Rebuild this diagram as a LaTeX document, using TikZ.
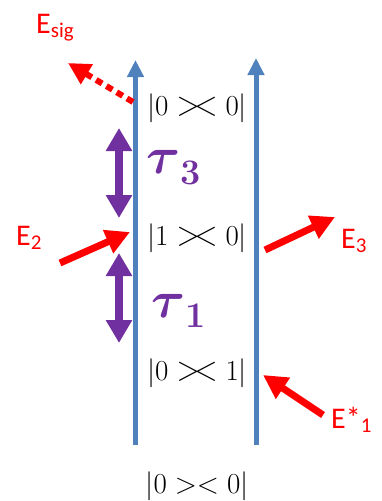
\RequirePackage{fix-cm}
\documentclass[tikz,border=0pt]{standalone}
\usepackage{fontspec}
\usepackage{bm}
\usepackage{graphicx}
\newfontfamily\calib{Carlito}
\usetikzlibrary{arrows.meta}
\definecolor{axisblue}{HTML}{4F81BD}
\definecolor{tpurple}{HTML}{7030A0}
\definecolor{ered}{HTML}{FF0000}
\newcommand\kx{\mathrel{\scalebox{1.05}[1.2]{$>\mkern-3.2mu<$}}}
\begin{document}
\begin{tikzpicture}[x=1pt,y=-1pt,
  axisline/.style={draw=axisblue,line width=5pt,-{Triangle[width=16pt,length=17pt]}},
  tauarrow/.style={draw=tpurple,line width=8pt,{Triangle[width=25pt,length=23pt]}-{Triangle[width=25pt,length=23pt]}},
  redarrow/.style={draw=ered,line width=7pt,-{Triangle[width=24pt,length=24pt]}},
  reddotted/.style={draw=ered,line width=6pt,dash pattern=on 7pt off 5pt,-{Triangle[width=22pt,length=22pt]}},
  ket/.style={inner sep=0pt,anchor=base,font=\fontsize{29}{30}\selectfont},
  elabel/.style={inner sep=0pt,anchor=base west,text=ered,font=\calib\fontsize{30}{30}\selectfont},
  taulabel/.style={inner sep=0pt,anchor=base west,text=tpurple}
]
\useasboundingbox (0,0) rectangle (382,501);
% axes
\coordinate (L0) at (135.5,445);
\coordinate (L1) at (135.5,60);
\coordinate (R0) at (256,445);
\coordinate (R1) at (256,58);
\draw[axisline] (L0) -- (L1);
\draw[axisline] (R0) -- (R1);
% ket-bras
\node[ket] (k00a) at (197,115) {$|0 \kx 0|$};
\node[ket] (k10) at (197,245) {$|1 \kx 0|$};
\node[ket] (k01) at (197,380) {$|0 \kx 1|$};
\node[ket] (k00b) at (197,493) {$|0><0|$};
% tau arrows
\coordinate (t3a) at (119,128);
\coordinate (t3b) at (119,218);
\coordinate (t1a) at (119,253);
\coordinate (t1b) at (119,343);
\draw[tauarrow] (t3a) -- (t3b);
\draw[tauarrow] (t1a) -- (t1b);
\node[taulabel] (tau3) at (146,173) {{\fontsize{52}{52}\selectfont$\bm{\tau}$}{\fontsize{36}{36}\selectfont\bfseries\raisebox{-11pt}{3}}};
\node[taulabel] (tau1) at (151,317) {{\fontsize{52}{52}\selectfont$\bm{\tau}$}{\fontsize{36}{36}\selectfont\bfseries\raisebox{-10pt}{1}}};
% red arrows
\coordinate (sigA) at (133,102);
\coordinate (sigB) at (68,63);
\draw[reddotted] (sigA) -- (sigB);
\coordinate (e2A) at (60,263);
\coordinate (e2B) at (130,232);
\draw[redarrow] (e2A) -- (e2B);
\coordinate (e3A) at (265,250);
\coordinate (e3B) at (335,217);
\draw[redarrow] (e3A) -- (e3B);
\coordinate (e1A) at (323,415);
\coordinate (e1B) at (263,375);
\draw[redarrow] (e1A) -- (e1B);
% red labels
\node[elabel] (Esig) at (36,33) {E\textsubscript{sig}};
\node[elabel] (E2) at (16,245) {E\textsubscript{2}};
\node[elabel] (E3) at (341,248) {E\textsubscript{3}};
\node[elabel] (E1) at (331,428) {E*\textsubscript{1}};
\end{tikzpicture}
\end{document}
